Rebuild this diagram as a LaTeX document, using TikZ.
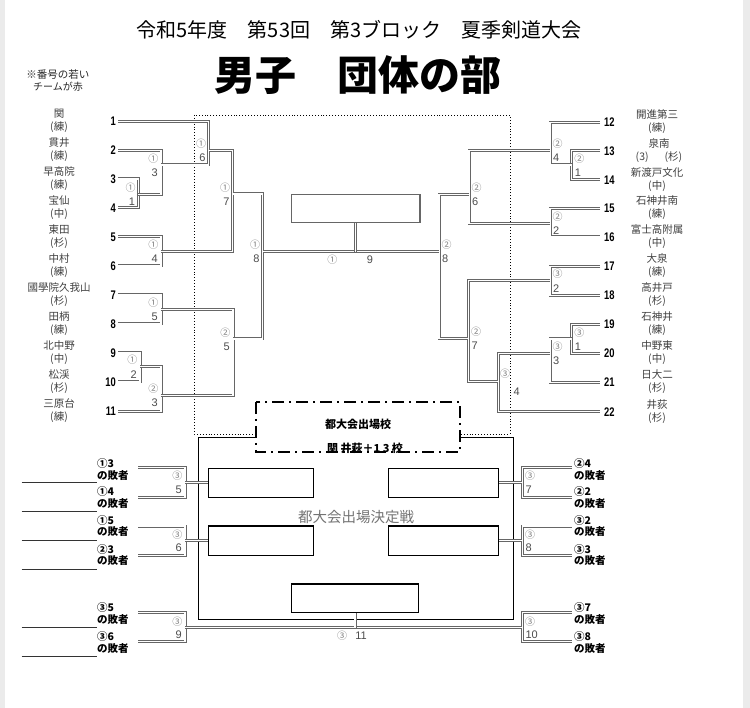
\documentclass[tikz,border=0pt]{standalone}
\usepackage{fontspec}
\usepackage{graphicx}
\setmainfont{Noto Sans CJK JP}
\newfontfamily\latinf{Liberation Sans}
\usetikzlibrary{calc}
\tikzset{
  br/.style={draw=black!60, double=white, line width=0.95pt, double distance=1.1pt},
  circ/.style={inner sep=0pt, text=black!50, font=\fontsize{10}{10}\selectfont},
  dig/.style={inner sep=0pt, text=black!70, font=\latinf\fontsize{11}{11}\selectfont},
  num/.style={inner sep=0pt, font=\latinf\bfseries\fontsize{12.5}{12.5}\selectfont},
  team/.style={inner sep=0pt, align=center, text=black!75, font=\fontsize{10.5}{13}\selectfont},
  loser/.style={inner sep=0pt, align=left, anchor=west, font=\bfseries\fontsize{10.5}{11.7}\selectfont},
  wbox/.style={draw=black, line width=1.5pt, inner sep=0pt},
  blank/.style={draw=black!80, line width=0.8pt},
}
\newcommand\bmatch[5]{\coordinate (#1) at (#2,#3);\draw[br] (#4) -| (#1 |- #5) -- (#5);}
\newcommand\labL[3]{\node[circ,anchor=east] (#1c) at ($(#1)+(-2.5,-6.5)$) {#2};\node[dig,anchor=east] (#1d) at ($(#1)+(-3,7.5)$) {#3};}
\newcommand\labR[3]{\node[circ,anchor=west] (#1c) at ($(#1)+(2.5,-6.5)$) {#2};\node[dig,anchor=west] (#1d) at ($(#1)+(3,7.5)$) {#3};}
\begin{document}
\begin{tikzpicture}[x=1pt,y=-1pt]
\useasboundingbox (0,0) rectangle (750,708);
\fill[white] (0,0) rectangle (750,708);
\fill[black!8] (0,0) rectangle (5,708);
\fill[black!8] (743,0) rectangle (750,708);

% titles
\node[inner sep=0pt] (title) at (359,30) {\fontsize{20}{20}\selectfont 令和5年度　第53回　第3ブロック　夏季剣道大会};
\node[inner sep=0pt] (main) at (358,75) {\bfseries\fontsize{41}{41}\selectfont 男子　団体の部};
\node[inner sep=0pt, align=center, text=black!85] (note) at (58,81) {\fontsize{10.5}{11.5}\selectfont ※番号の若い\\チームが赤};

% frames
\draw[dotted, line width=0.9pt] (194,115) rectangle (510,434);
\node[wbox, minimum width=315pt, minimum height=181.6pt] (big) at (355.8,528.5) {};
\node[draw=black!60, line width=1.3pt, inner sep=0pt, minimum width=128.3pt, minimum height=28.4pt] (b0) at (355.8,208.5) {};

% left teams
\foreach \i/\y/\nm/\ku in {1/121.7/関/練, 2/150.3/貫井/練, 3/179/早高院/練, 4/207.8/宝仙/中, 5/236.8/東田/杉, 6/266/中村/練, 7/295/國學院久我山/杉, 8/324/田柄/練, 9/353/北中野/中, 10/382/松渓/杉, 11/411.5/三原台/練}{
  \node[num,anchor=east] (n\i) at (116,\y) {\scalebox{0.75}[1]{\i}};
  \coordinate (t\i) at (118,\y);
  \node[team] (nm\i) at (59,\y-0.5) {\nm\\(\ku)};
}
% right teams
\foreach \i/\y/\nm/\ku in {12/122.5/開進第三/練, 14/179.8/新渡戸文化/中, 15/208.5/石神井南/練, 16/237/富士高附属/中, 17/266.3/大泉/練, 18/295.5/高井戸/杉, 19/324.5/石神井/練, 20/353.3/中野東/中, 21/382.5/日大二/杉, 22/411.7/井荻/杉}{
  \node[num,anchor=west] (n\i) at (604,\y) {\scalebox{0.75}[1]{\i}};
  \coordinate (t\i) at (600,\y);
  \node[team] (nm\i) at (657,\y-0.5) {\nm\\(\ku)};
}
\node[num,anchor=west] (n13) at (604,150.8) {\scalebox{0.75}[1]{13}};
\coordinate (t13) at (600,150.8);
\node[team] (nm13) at (659,150.3) {泉南\\(3)\hspace{16pt}(杉)};

% left bracket
\bmatch{J1}{138.3}{194.3}{t3}{t4}
\bmatch{J2}{140}{366.7}{t9}{t10}
\bmatch{J3}{161}{165}{t2}{J1}
\bmatch{J4}{161}{251.7}{t5}{t6}
\bmatch{J5}{161}{309.3}{t7}{t8}
\bmatch{K3}{161}{395.7}{J2}{t11}
\bmatch{J6}{208.7}{150.7}{t1}{J3}
\bmatch{J7}{232.7}{194}{J6}{J4}
\bmatch{K5}{233}{339}{J5}{K3}
\bmatch{J8}{262.7}{251.7}{J7}{K5}
\labL{J1}{①}{1}
\labL{J2}{①}{2}
\labL{J3}{①}{3}
\labL{J4}{①}{4}
\labL{J5}{①}{5}
\labL{K3}{②}{3}
\labL{J6}{①}{6}
\labL{J7}{①}{7}
\labL{K5}{②}{5}
\labL{J8}{①}{8}

% right bracket
\bmatch{R1}{571.7}{165}{t13}{t14}
\bmatch{R4}{550}{150.7}{t12}{R1}
\bmatch{R2}{550}{223.3}{t15}{t16}
\bmatch{R6}{469}{194.3}{R4}{R2}
\bmatch{S2}{550}{280.7}{t17}{t18}
\bmatch{S1}{571.7}{339}{t19}{t20}
\bmatch{S3}{550}{353.3}{S1}{t21}
\bmatch{S4}{498.3}{381.7}{S3}{t22}
\bmatch{R7}{468.3}{338.3}{S2}{S4}
\bmatch{R8}{439}{251.7}{R6}{R7}
\labR{R1}{②}{1}
\labR{R4}{②}{4}
\labR{R2}{②}{2}
\labR{R6}{②}{6}
\labR{S2}{③}{2}
\labR{S1}{③}{1}
\labR{S3}{③}{3}
\node[circ] (S4c) at (505,373.3) {③};
\node[dig] (S4d) at (516.7,391.7) {4};
\labR{R7}{②}{7}
\labR{R8}{②}{8}

% final
\draw[br] (J8) -- (R8);
\draw[br] (b0.south) -- (b0.south |- J8);
\node[circ] (Fc) at (332.3,260) {①};
\node[dig] (Fd) at (370,260) {9};

% qualifying box
\draw[line width=2.2pt, fill=white, dash pattern=on 12pt off 5pt on 2pt off 5pt] (256,402) rectangle (460,452);
\node[inner sep=0pt, font=\bfseries\fontsize{11}{11}\selectfont] (q1) at (358,424) {都大会出場校};
\node[inner sep=0pt, font=\bfseries\fontsize{11}{11}\selectfont] (q2) at (365,448) {関 井萩＋1 3 校};
\node[inner sep=0pt, text=black!55, font=\fontsize{14.5}{14.5}\selectfont] (dec) at (356,516.7) {都大会出場決定戦};

% boxes
\node[wbox, minimum width=105pt, minimum height=29pt] (b1) at (260.8,482.8) {};
\node[wbox, minimum width=105pt, minimum height=29.7pt] (b2) at (260.8,540.85) {};
\node[wbox, minimum width=110pt, minimum height=29pt] (b3) at (443.3,482.8) {};
\node[wbox, minimum width=110pt, minimum height=29.7pt] (b4) at (443.3,540.85) {};
\node[wbox, minimum width=126.6pt, minimum height=28.7pt] (b5) at (355,598.35) {};

% loser slots
\coordinate (a1) at (138.3,467.7); \coordinate (a2) at (138.3,497.3);
\coordinate (a3) at (138.3,526);   \coordinate (a4) at (138.3,555.7);
\coordinate (a5) at (138.3,612.7); \coordinate (a6) at (138.3,641.7);
\coordinate (c1) at (571.7,467.7); \coordinate (c2) at (571.7,497.3);
\coordinate (c3) at (571.7,526);   \coordinate (c4) at (571.7,555.7);
\coordinate (c5) at (571.7,612.7); \coordinate (c6) at (571.7,641.7);
\bmatch{L5}{185}{482.7}{a1}{a2}
\bmatch{L6}{185}{540.7}{a3}{a4}
\bmatch{L9}{185}{627.7}{a5}{a6}
\bmatch{M7}{522.3}{482.7}{c1}{c2}
\bmatch{M8}{522.3}{540.7}{c3}{c4}
\bmatch{M10}{522.3}{627.7}{c5}{c6}
\draw[br] (L5) -- (L5 -| b1.west);
\draw[br] (L6) -- (L6 -| b2.west);
\draw[br] (M7) -- (M7 -| b3.east);
\draw[br] (M8) -- (M8 -| b4.east);
\draw[br] (L9) -- (M10);
\draw[br] (b5.south) -- (b5.south |- L9);
\labL{L5}{③}{5}
\labL{L6}{③}{6}
\labL{L9}{③}{9}
\labR{M7}{③}{7}
\labR{M8}{③}{8}
\labR{M10}{③}{10}
\node[circ] (Gc) at (342,635.7) {③};
\node[dig] (Gd) at (361,635.7) {11};

\node[loser] (l1) at (97,469.2) {①3\\の敗者};
\node[loser] (l2) at (97,497.5) {①4\\の敗者};
\node[loser] (l3) at (97,525.9) {①5\\の敗者};
\node[loser] (l4) at (97,554.9) {②3\\の敗者};
\node[loser] (l5) at (97,613.5) {③5\\の敗者};
\node[loser] (l6) at (97,642.5) {③6\\の敗者};
\node[loser] (r1) at (574,469.2) {②4\\の敗者};
\node[loser] (r2) at (574,497.5) {②2\\の敗者};
\node[loser] (r3) at (574,525.9) {③2\\の敗者};
\node[loser] (r4) at (574,554.9) {③3\\の敗者};
\node[loser] (r5) at (574,613.5) {③7\\の敗者};
\node[loser] (r6) at (574,642.5) {③8\\の敗者};

\foreach \y in {482.3,511.7,540.7,569.3,627.3,656.7}{\draw[blank] (21.7,\y) -- (96.7,\y);}
\end{tikzpicture}
\end{document}
